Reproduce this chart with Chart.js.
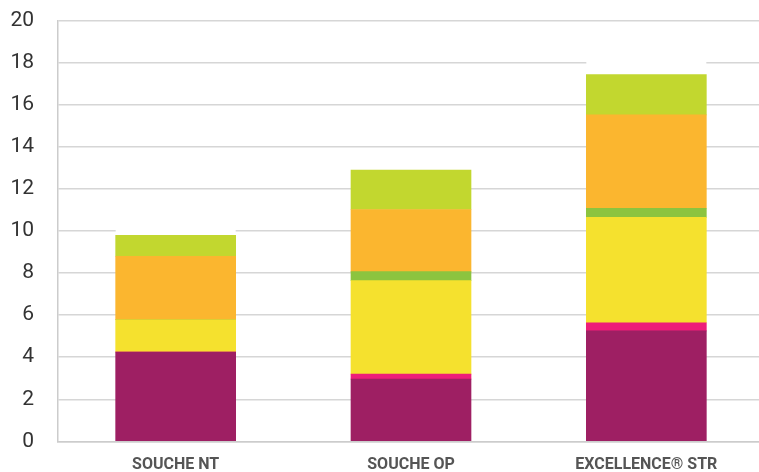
<!DOCTYPE html>
<html>
<head>
<meta charset="utf-8">
<script src="https://cdn.jsdelivr.net/npm/chart.js@4/dist/chart.umd.min.js"></script>
<style>
  html, body { margin: 0; padding: 0; background: #fff; overflow: hidden; }
  #wrap { width: 764px; height: 472px; overflow: hidden; }
  #chart { display: block; margin-top: -16px; }
</style>
</head>
<body>
<div id="wrap"><canvas id="chart" width="764" height="494"></canvas></div>
<script>
/* donnees */
const categories = ['SOUCHE NT', 'SOUCHE OP', 'EXCELLENCE® STR'];
const violet = [4.25, 2.96, 5.25];
const rose   = [0,    0.24, 0.39];
const jaune  = [1.53, 4.44, 5.01];
const vert   = [0,    0.43, 0.43];
const orange = [3.02, 2.95, 4.44];
const anis   = [0.99, 1.87, 1.91];
const yTicks = [0, 2, 4, 6, 8, 10, 12, 14, 16, 18, 20];

const FONT = "Roboto, 'Liberation Sans', sans-serif";

// petit blanc au-dessus des barres (cache la grille)
const capPlugin = {
    id: 'cap',
    beforeDatasetsDraw(chart) {
        const ctx = chart.ctx;
        const last = chart.getDatasetMeta(chart.data.datasets.length - 1);
        ctx.save();
        ctx.fillStyle = '#fff';
        last.data.forEach(bar => {
            ctx.fillRect(bar.x - bar.width / 2, bar.y - 16, bar.width, 16);
        });
        ctx.restore();
    }
};

function ds(data, color) {
    return { data: data, backgroundColor: color, borderWidth: 0, barThickness: 120 };
}

new Chart(document.getElementById('chart').getContext('2d'), {
    type: 'bar',
    data: {
        labels: categories,
        datasets: [
            ds(violet, '#9e1f63'),
            ds(rose,   '#ed1e79'),
            ds(jaune,  '#f5e12e'),
            ds(vert,   '#8cc43f'),
            ds(orange, '#fbb62f'),
            ds(anis,   '#c2d72f')
        ]
    },
    options: {
        responsive: false,
        animation: false,
        layout: { padding: { top: 0, right: 0, left: 0, bottom: 0 } },
        plugins: { legend: { display: false }, tooltip: { enabled: false } },
        scales: {
            x: {
                stacked: true,
                afterFit: axis => { axis.height = 32; },
                grid: { display: false, drawTicks: false },
                border: { color: '#cccccc', width: 1.5 },
                ticks: {
                    color: '#555555',
                    padding: 14,
                    font: { family: FONT, size: 16, weight: 'bold' }
                }
            },
            y: {
                stacked: true,
                min: 0,
                max: 20,
                afterBuildTicks: axis => { axis.ticks = yTicks.map(v => ({ value: v })); },
                afterFit: axis => { axis.width = 58; },
                grid: { color: '#d6d6d6', lineWidth: 1.5, drawTicks: false },
                border: { color: '#cccccc', width: 1.5 },
                ticks: {
                    color: '#333333',
                    padding: 24,
                    font: { family: FONT, size: 21 }
                }
            }
        }
    },
    plugins: [capPlugin]
});
</script>
</body>
</html>
